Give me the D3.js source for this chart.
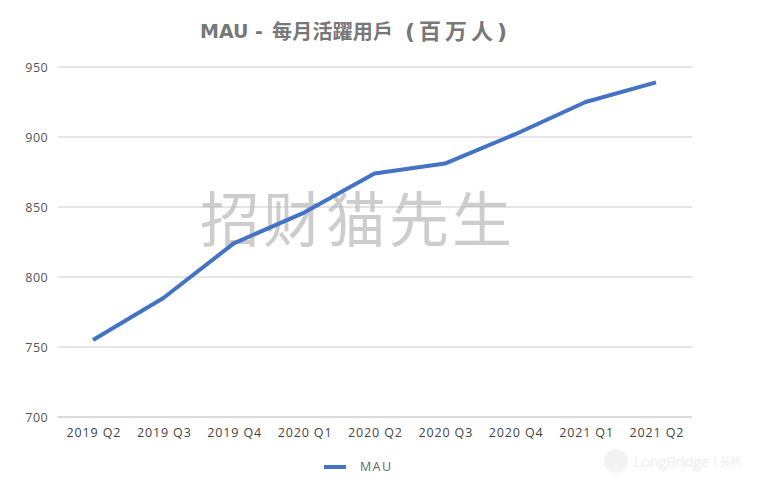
<!DOCTYPE html>
<html><head><meta charset="utf-8">
<script src="https://cdn.jsdelivr.net/npm/d3@7"></script>
<style>body{margin:0;background:#fff}svg{display:block}</style>
</head><body>
<svg id="c" width="770" height="490"></svg>
<script>
const categories = ["2019 Q2","2019 Q3","2019 Q4","2020 Q1","2020 Q2","2020 Q3","2020 Q4","2021 Q1","2021 Q2"];
const mau = [755, 785, 824, 846, 874, 881, 902, 925, 939];
const yTicks = [700, 750, 800, 850, 900, 950];
const titleParts = ["MAU -", "每月活躍用戶", "(百万人)"];
const seriesName = "MAU";

(function () {
const svg = d3.select("#c");
const pLeft = 58, pRight = 692, pTop = 67, pBottom = 417;
const x = d3.scalePoint().domain(categories).range([93, 656]);
const y = d3.scaleLinear().domain([700, 950]).range([pBottom, pTop]);
const font = "'Open Sans', 'Noto Sans CJK TC', sans-serif";

// grid
svg.append("g").selectAll("line").data(yTicks).join("line")
  .attr("x1", pLeft).attr("x2", pRight)
  .attr("y1", d => y(d)).attr("y2", d => y(d))
  .attr("stroke", d => d === 700 ? "#cfcfcf" : "#dcdcdc").attr("stroke-width", 1.3);

// y axis labels
const yAxis = d3.axisLeft(y).tickValues(yTicks).tickSize(0).tickPadding(0);
const ya = svg.append("g").attr("transform", `translate(48,0)`).call(yAxis);
ya.select(".domain").remove();
ya.selectAll("text").attr("font-family", font).attr("font-size", 12.5)
  .attr("letter-spacing", 0.4).attr("fill", "#555");

// x axis labels
const xAxis = d3.axisBottom(x).tickSize(0).tickPadding(0);
const xa = svg.append("g").attr("transform", `translate(0,428)`).call(xAxis);
xa.select(".domain").remove();
xa.selectAll("text").attr("font-family", font).attr("font-size", 12.5).attr("fill", "#444")
  .attr("dy", "0.71em").attr("textLength", 54).attr("lengthAdjust", "spacing");

// watermark
svg.append("text").attr("x", 356).attr("y", 242).attr("text-anchor", "middle")
  .attr("font-family", "'Noto Sans CJK SC', sans-serif").attr("font-size", 60)
  .attr("fill", "#b8b8b8").attr("fill-opacity", 0.7)
  .attr("textLength", 312).attr("lengthAdjust", "spacing")
  .text("招财猫先生");

// line
const line = d3.line().x((d, i) => x(categories[i])).y(d => y(d));
svg.append("path").datum(mau).attr("d", line)
  .attr("fill", "none").attr("stroke", "#4472C4").attr("stroke-width", 4)
  .attr("stroke-linejoin", "round").attr("stroke-linecap", "butt");

// title
const tg = svg.append("g").attr("fill", "#777").attr("font-weight", "bold");
tg.append("text").attr("x", 200).attr("y", 38)
  .attr("font-family", "'DejaVu Sans', sans-serif").attr("font-size", 19).text(titleParts[0]);
tg.append("text").attr("x", 272).attr("y", 39)
  .attr("font-family", "'Noto Sans CJK TC', sans-serif").attr("font-size", 20)
  .attr("textLength", 121).attr("lengthAdjust", "spacing").text(titleParts[1]);
tg.append("text").attr("x", 405).attr("y", 39)
  .attr("font-family", "'DejaVu Sans', 'Noto Sans CJK TC', sans-serif").attr("font-size", 22)
  .attr("letter-spacing", 4).text(titleParts[2]);

// legend
svg.append("line").attr("x1", 324).attr("x2", 346).attr("y1", 467).attr("y2", 467)
  .attr("stroke", "#4472C4").attr("stroke-width", 4);
svg.append("text").attr("x", 360).attr("y", 471).attr("font-family", font)
  .attr("font-size", 12.5).attr("fill", "#666")
  .attr("textLength", 31).attr("lengthAdjust", "spacing").text(seriesName);

// logo watermark
const lg = svg.append("g").attr("opacity", 0.35);
lg.append("circle").attr("cx", 616).attr("cy", 461).attr("r", 12).attr("fill", "#ddd");
lg.append("text").attr("x", 634).attr("y", 467).attr("font-family", "'Open Sans', sans-serif")
  .attr("font-size", 15).attr("fill", "#ccc")
  .attr("textLength", 75).attr("lengthAdjust", "spacing").text("LongBridge");
lg.append("text").attr("x", 714).attr("y", 466).attr("font-family", "'Noto Sans CJK SC', sans-serif")
  .attr("font-size", 11).attr("fill", "#ccc").text("| 长桥");
})();
</script>
</body></html>
